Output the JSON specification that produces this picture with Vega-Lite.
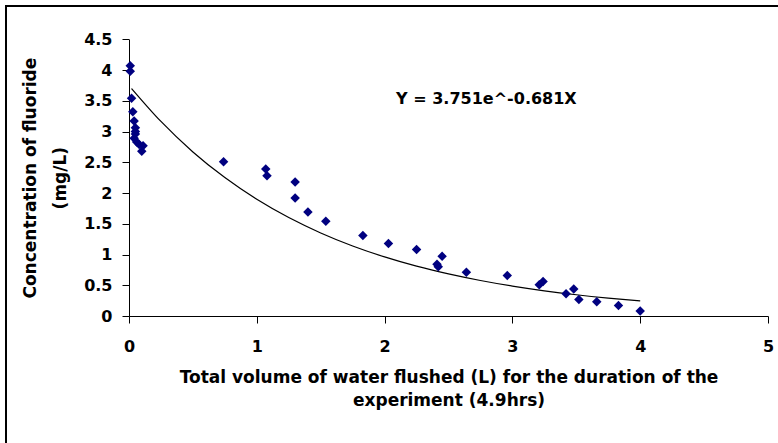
{
  "$schema": "https://vega.github.io/schema/vega-lite/v6.json",
  "autosize": {"type": "none"},
  "padding": {"left": 6, "top": 6, "right": 0, "bottom": 0},
  "width": 780,
  "height": 450,
  "background": "white",
  "config": {
    "view": {"stroke": "black", "strokeWidth": 2, "fill": "white"},
    "font": "DejaVu Sans",
    "axis": {
      "labelFont": "DejaVu Sans",
      "labelFontWeight": "bold",
      "labelFontSize": 16,
      "labelColor": "black",
      "titleFont": "DejaVu Sans",
      "titleFontWeight": "bold",
      "titleFontSize": 17,
      "titleColor": "black",
      "domainColor": "black",
      "tickColor": "black",
      "grid": false,
      "tickSize": 7,
      "labelOverlap": false,
      "labelFlush": false
    }
  },
  "datasets": {
    "points": [
      {"volume": 0.01, "fluoride": 4.07},
      {"volume": 0.01, "fluoride": 3.98},
      {"volume": 0.02, "fluoride": 3.54},
      {"volume": 0.03, "fluoride": 3.32},
      {"volume": 0.04, "fluoride": 3.17},
      {"volume": 0.05, "fluoride": 3.06},
      {"volume": 0.05, "fluoride": 3.0},
      {"volume": 0.05, "fluoride": 2.96},
      {"volume": 0.04, "fluoride": 2.89},
      {"volume": 0.06, "fluoride": 2.83},
      {"volume": 0.08, "fluoride": 2.79},
      {"volume": 0.11, "fluoride": 2.77},
      {"volume": 0.1, "fluoride": 2.68},
      {"volume": 0.74, "fluoride": 2.51},
      {"volume": 1.07, "fluoride": 2.39},
      {"volume": 1.08, "fluoride": 2.28},
      {"volume": 1.3, "fluoride": 2.18},
      {"volume": 1.3, "fluoride": 1.92},
      {"volume": 1.4, "fluoride": 1.69},
      {"volume": 1.54, "fluoride": 1.54},
      {"volume": 1.83, "fluoride": 1.31},
      {"volume": 2.03, "fluoride": 1.18},
      {"volume": 2.25, "fluoride": 1.08},
      {"volume": 2.41, "fluoride": 0.84},
      {"volume": 2.42, "fluoride": 0.8},
      {"volume": 2.45, "fluoride": 0.97},
      {"volume": 2.64, "fluoride": 0.71},
      {"volume": 2.96, "fluoride": 0.66},
      {"volume": 3.21, "fluoride": 0.51},
      {"volume": 3.24, "fluoride": 0.56},
      {"volume": 3.42, "fluoride": 0.36},
      {"volume": 3.48, "fluoride": 0.44},
      {"volume": 3.52, "fluoride": 0.27},
      {"volume": 3.66, "fluoride": 0.23},
      {"volume": 3.83, "fluoride": 0.17},
      {"volume": 4.0, "fluoride": 0.08}
    ],
    "fit": [
      {"volume": 0.02, "fluoride": 3.7},
      {"volume": 0.25, "fluoride": 3.164},
      {"volume": 0.5, "fluoride": 2.668},
      {"volume": 0.75, "fluoride": 2.251},
      {"volume": 1.0, "fluoride": 1.898},
      {"volume": 1.25, "fluoride": 1.601},
      {"volume": 1.5, "fluoride": 1.351},
      {"volume": 1.75, "fluoride": 1.139},
      {"volume": 2.0, "fluoride": 0.961},
      {"volume": 2.25, "fluoride": 0.81},
      {"volume": 2.5, "fluoride": 0.684},
      {"volume": 2.75, "fluoride": 0.577},
      {"volume": 3.0, "fluoride": 0.486},
      {"volume": 3.25, "fluoride": 0.41},
      {"volume": 3.5, "fluoride": 0.346},
      {"volume": 3.75, "fluoride": 0.292},
      {"volume": 4.0, "fluoride": 0.246}
    ],
    "equation": [
      {"volume": 2.09, "fluoride": 3.53, "label": "Y = 3.751e^-0.681X"}
    ]
  },
  "encoding": {
    "x": {
      "field": "volume",
      "type": "quantitative",
      "scale": {"domain": [0, 5], "range": [123, 762], "nice": false, "zero": false},
      "axis": {
        "values": [0, 1, 2, 3, 4, 5],
        "format": "~g",
        "offset": -140,
        "labelPadding": 15,
        "titlePadding": 15,
        "titleLineHeight": 23,
        "title": ["Total volume of water flushed (L) for the duration of the", "experiment (4.9hrs)"]
      }
    },
    "y": {
      "field": "fluoride",
      "type": "quantitative",
      "scale": {"domain": [0, 4.5], "range": [310, 33.3], "nice": false, "zero": false},
      "axis": {
        "values": [0, 0.5, 1, 1.5, 2, 2.5, 3, 3.5, 4, 4.5],
        "format": "~g",
        "offset": -123,
        "labelPadding": 10,
        "titlePadding": 14,
        "titleLineHeight": 30,
        "title": ["Concentration of fluoride", "(mg/L)"]
      }
    }
  },
  "layer": [
    {
      "data": {"name": "fit"},
      "mark": {"type": "line", "color": "black", "strokeWidth": 1.2, "interpolate": "monotone"}
    },
    {
      "data": {"name": "points"},
      "mark": {"type": "point", "shape": "diamond", "filled": true, "color": "#000080", "size": 90, "opacity": 1}
    },
    {
      "data": {"name": "equation"},
      "mark": {"type": "text", "align": "left", "baseline": "middle", "font": "DejaVu Sans", "fontWeight": "bold", "fontSize": 16, "color": "black"},
      "encoding": {"text": {"field": "label"}}
    }
  ]
}
